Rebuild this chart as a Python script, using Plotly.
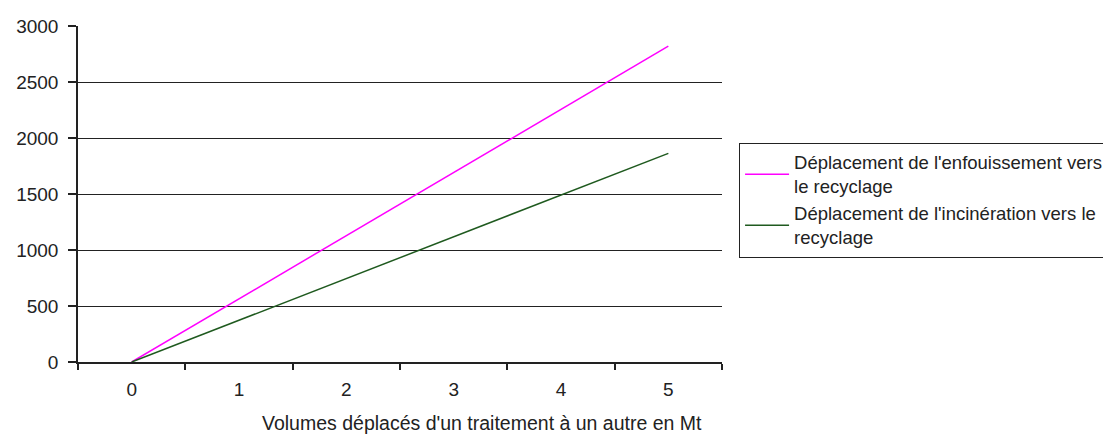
import plotly.graph_objects as go

categories = ["0", "1", "2", "3", "4", "5"]
enfouissement = [0, 564, 1128, 1692, 2256, 2820]
incineration = [0, 373, 745, 1118, 1490, 1863]
y_ticks = [0, 500, 1000, 1500, 2000, 2500, 3000]

name1 = "Déplacement de l'enfouissement vers<br>le recyclage"
name2 = "Déplacement de l'incinération vers le<br>recyclage"
x_title = "Volumes déplacés d'un traitement à un autre en Mt"

font = "Liberation Sans, Arial, sans-serif"

fig = go.Figure()
fig.add_trace(go.Scatter(x=categories, y=enfouissement, mode="lines", name=name1,
                         line=dict(color="#FF00FF", width=1.5)))
fig.add_trace(go.Scatter(x=categories, y=incineration, mode="lines", name=name2,
                         line=dict(color="#1F5A1F", width=1.5)))

# page body has an 8px default margin, so the figure is sized/offset to compensate
fig.update_layout(
    width=1103, height=429,
    margin=dict(l=70, r=389, t=18, b=75, autoexpand=False),
    paper_bgcolor="white", plot_bgcolor="white",
    font=dict(family=font, size=19, color="#222"),
    showlegend=True,
    legend=dict(x=1.0265, y=0.653, xanchor="left", yanchor="top",
                bordercolor="#222", borderwidth=1, bgcolor="white",
                font=dict(size=18.5, family=font, color="#222"),
                tracegroupgap=0, itemwidth=44),
    xaxis=dict(type="category", tickson="boundaries", range=[-0.5, 5.5],
               automargin=False,
               showline=True, linecolor="#222", linewidth=1.5,
               ticks="outside", ticklen=6, tickcolor="#222", tickwidth=1.5,
               ticklabelstandoff=9,
               showgrid=False, zeroline=False),
    yaxis=dict(range=[0, 3000], tickvals=y_ticks, automargin=False,
               showline=True, linecolor="#222", linewidth=1.5,
               ticks="outside", ticklen=8, tickcolor="#222", tickwidth=1.5,
               ticklabelstandoff=6,
               showgrid=True, gridcolor="#222", gridwidth=1.2,
               zeroline=False),
    annotations=[dict(text=x_title, xref="paper", yref="paper",
                      x=0.627, y=-0.1815, xanchor="center", yanchor="middle",
                      showarrow=False, font=dict(size=19.5, family=font, color="#222"))],
)

fig.write_html("out.html")
